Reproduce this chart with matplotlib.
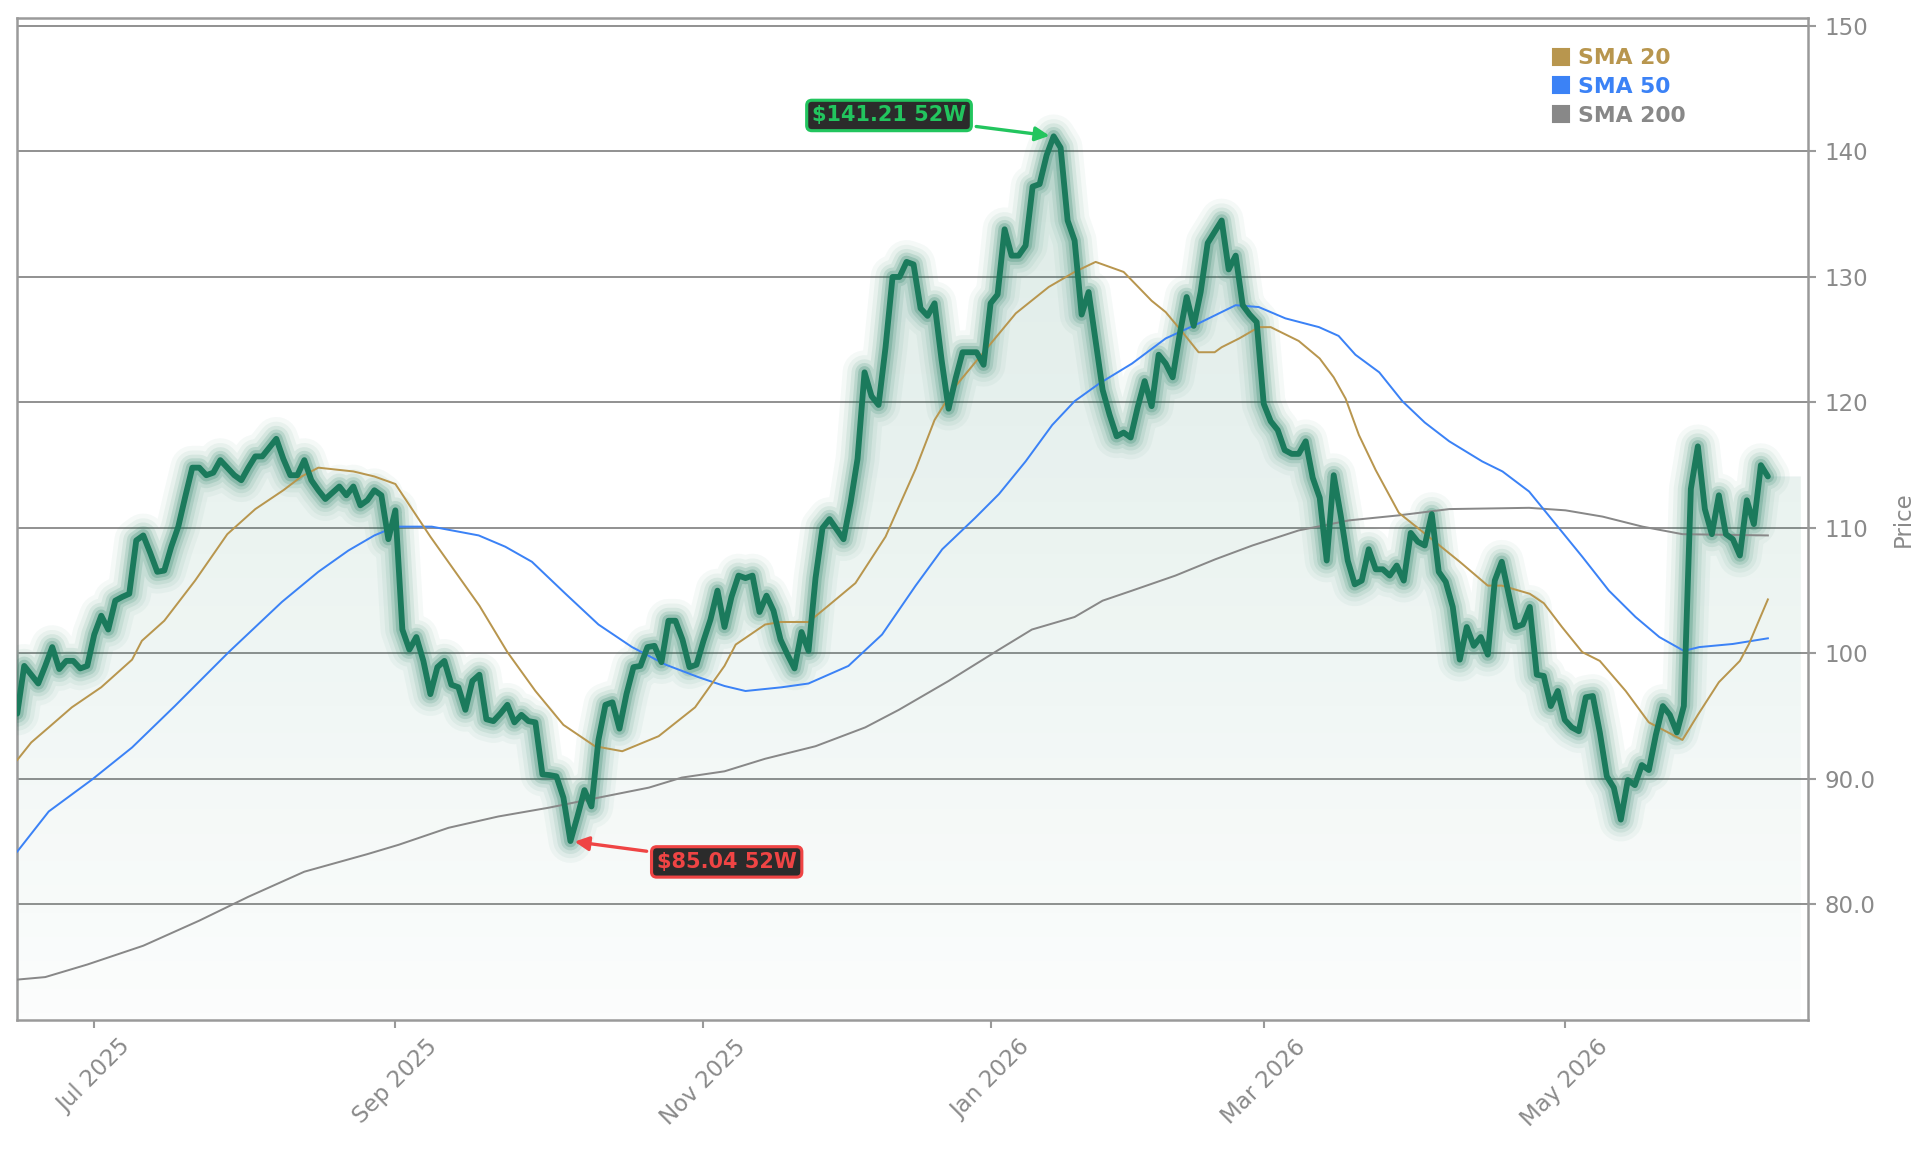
import numpy as np
import matplotlib
matplotlib.use("Agg")
import matplotlib.pyplot as plt
from matplotlib.lines import Line2D
from matplotlib.path import Path
from matplotlib.patches import PathPatch
import matplotlib.colors as mcolors

# ---------------- data (trading-day index 0..250) ----------------
close = [
    95.2, 99.0, 98.3, 97.6, 99.0, 100.5, 98.75, 99.4, 99.4, 98.8,
    99.0, 101.5, 103.0, 101.9, 104.2, 104.5, 104.75, 109.0, 109.4, 108.0,
    106.5, 106.6, 108.5, 110.1, 112.5, 114.8, 114.8, 114.2, 114.4, 115.4,
    114.8, 114.2, 113.8, 114.8, 115.7, 115.7, 116.4, 117.1, 115.5, 114.2,
    114.2, 115.4, 113.8, 113.0, 112.3, 112.8, 113.3, 112.6, 113.3, 111.8,
    112.2, 113.0, 112.6, 109.1, 111.4, 101.9, 100.3, 101.3, 99.4, 96.75,
    98.9, 99.4, 97.5, 97.3, 95.5, 97.8, 98.3, 94.75, 94.6, 95.2,
    95.9, 94.5, 95.1, 94.6, 94.5, 90.35, 90.3, 90.2, 88.5, 85.04,
    87.0, 89.1, 87.8, 93.1, 95.9, 96.1, 94.0, 96.75, 98.9, 99.0,
    100.5, 100.6, 99.3, 102.6, 102.6, 101.1, 98.9, 99.1, 101.0, 102.7,
    105.0, 102.1, 104.5, 106.2, 106.0, 106.2, 103.3, 104.6, 103.4, 101.1,
    99.9, 98.8, 101.7, 100.2, 106.0, 110.0, 110.7, 109.9, 109.1, 112.0,
    115.5, 122.4, 120.5, 119.8, 124.4, 130.0, 130.0, 131.2, 131.0, 127.5,
    126.9, 127.9, 123.4, 119.5, 121.9, 124.0, 124.0, 124.0, 123.0, 127.9,
    128.6, 133.8, 131.7, 131.7, 132.5, 137.2, 137.4, 139.7, 141.21, 140.3,
    134.5, 132.9, 127.0, 128.8, 124.9, 121.0, 119.0, 117.3, 117.6, 117.2,
    119.6, 121.7, 119.7, 123.8, 123.1, 122.0, 125.4, 128.4, 126.1, 128.8,
    132.7, 133.6, 134.5, 130.6, 131.7, 127.75, 127.0, 126.4, 119.9, 118.5,
    117.8, 116.2, 115.9, 115.9, 116.9, 114.0, 112.4, 107.4, 114.2, 111.0,
    107.4, 105.5, 105.8, 108.3, 106.7, 106.7, 106.2, 107.0, 105.8, 109.6,
    108.9, 108.6, 111.1, 106.5, 105.7, 103.7, 99.5, 102.1, 100.6, 101.3,
    99.9, 105.8, 107.3, 104.7, 102.1, 102.3, 103.7, 98.3, 98.2, 95.8,
    97.0, 94.7, 94.1, 93.8, 96.5, 96.6, 93.7, 90.2, 89.3, 86.75,
    89.9, 89.5, 91.1, 90.7, 93.5, 95.8, 95.1, 93.7, 95.8, 113.1,
    116.5, 111.5, 109.5, 112.6, 109.5, 109.1, 107.8, 112.2, 110.3, 115.0, 114.1,
]

sma20_t = [0, 2, 4.5, 7.8, 12, 16.4, 17.8, 21, 25.4, 30, 34, 38, 40.6, 43, 48,
           51, 54, 59, 66, 70, 74, 78, 82.5, 86.4, 91.6, 96.8, 101, 102.6, 106.8, 109,
           113, 115.4, 119.7, 124, 128.3, 131, 134, 138, 142.6, 147.3, 151, 154, 158, 162, 164,
           166.4, 168.7, 171, 172, 174.5, 177.3, 179, 183, 186, 188, 189.7, 191.6, 194, 197.3, 200,
           206, 210, 212, 216, 218, 220.6, 223.5, 226, 229.7, 233, 237.8, 240, 243, 246, 247.3, 250]
sma20_v = [91.5, 92.9, 94.1, 95.7, 97.3, 99.5, 101.0, 102.6, 105.8, 109.5, 111.5, 113.0, 114.1, 114.8, 114.5,
           114.1, 113.5, 109.3, 103.8, 100.1, 97.0, 94.3, 92.6, 92.2, 93.4, 95.7, 99.0, 100.7, 102.3, 102.5,
           102.5, 103.6, 105.6, 109.3, 114.7, 118.6, 121.3, 124.0, 127.1, 129.2, 130.4, 131.2, 130.4, 128.1, 127.2,
           125.6, 124.0, 124.0, 124.4, 125.1, 126.0, 126.0, 124.9, 123.5, 122.0, 120.3, 117.4, 114.6, 111.2, 110.0,
           107.3, 105.4, 105.4, 104.75, 104.0, 102.1, 100.1, 99.4, 97.0, 94.5, 93.1, 95.1, 97.7, 99.4, 100.75, 104.3]

sma50_t = [0, 4.5, 10.7, 16.4, 22.5, 30.2, 37.8, 43, 47.3, 51, 54, 59.2, 65.9, 69.7, 73.5,
           78.3, 83, 87.8, 92.6, 97.3, 101, 104, 109.2, 113, 118.7, 123.5, 128.3, 132.1, 136.8, 140.2,
           144, 147.8, 151, 154.5, 159.2, 164, 168.7, 174, 177.3, 181.1, 185.9, 188.7, 191.1, 194.5, 197.8,
           201, 204.5, 209.2, 212.1, 215.9, 219.7, 223.5, 227.3, 231.1, 234.5, 238, 240.2, 245, 250]
sma50_v = [84.2, 87.4, 89.95, 92.5, 95.8, 100.1, 104.1, 106.5, 108.2, 109.4, 110.1, 110.1, 109.4, 108.5, 107.3,
           104.75, 102.3, 100.5, 99.1, 98.1, 97.4, 97.0, 97.3, 97.6, 99.0, 101.5, 105.4, 108.3, 110.8, 112.7,
           115.3, 118.2, 120.1, 121.5, 123.1, 125.1, 126.3, 127.75, 127.6, 126.7, 126.0, 125.3, 123.8, 122.4, 120.1,
           118.4, 116.9, 115.3, 114.5, 112.9, 110.3, 107.7, 105.0, 102.9, 101.3, 100.2, 100.5, 100.75, 101.2]

sma200_t = [0, 4, 10, 18, 26, 33, 41, 50, 54.5, 61.6, 68.7, 75.9, 83, 90.2, 94.9,
            101, 106.8, 114, 121.1, 125.9, 133, 140.2, 144.9, 151, 155, 159.2, 165.4, 171.1, 176.4, 183,
            190.2, 197.3, 204.5, 215.9, 221.1, 226.4, 232.1, 237.8, 250]
sma200_v = [74.0, 74.2, 75.2, 76.7, 78.7, 80.6, 82.6, 84.0, 84.75, 86.1, 87.0, 87.7, 88.5, 89.3, 90.1,
            90.6, 91.6, 92.6, 94.1, 95.5, 97.8, 100.3, 101.9, 102.9, 104.2, 105.0, 106.2, 107.5, 108.6, 109.8,
            110.6, 111.0, 111.5, 111.6, 111.4, 110.9, 110.1, 109.5, 109.4]

month_tick_idx = [11, 54, 98, 139, 178, 221]
month_labels = ["Jul 2025", "Sep 2025", "Nov 2025", "Jan 2026", "Mar 2026", "May 2026"]
price_ticks = [80, 90, 100, 110, 120, 130, 140, 150]
price_tick_labels = ["80.0", "90.0", "100", "110", "120", "130", "140", "150"]
sma_labels = ["SMA 20", "SMA 50", "SMA 200"]

# ---------------- style ----------------
LINE = "#1b7a5c"
C20, C50, C200 = "#b8964e", "#3b82f6", "#888888"
GREEN, RED = "#22c55e", "#ef4444"
GRAY_TXT = "#8a8a8a"

close = np.asarray(close)
day = np.arange(len(close))
YBOT, YTOP = 70.8, 150.6
XMAX = 255.8
fill_end = 254.7

fig = plt.figure(figsize=(12.86, 7.7), dpi=150)
ax = fig.add_axes([0.00893, 0.1171, 0.9286, 0.8669])

# gradient fill under price
verts = [(0, YBOT)] + list(zip(day, close)) + [(fill_end, close[-1]), (fill_end, YBOT), (0, YBOT)]
clip = PathPatch(Path(verts), facecolor="none", edgecolor="none")
ax.add_patch(clip)
g = np.linspace(0, 1, 256).reshape(-1, 1)
rgba = np.zeros((256, 1, 4))
rgba[..., :3] = mcolors.to_rgb(LINE)
rgba[..., 3] = 0.015 + 0.135 * g
im = ax.imshow(rgba, origin="lower", aspect="auto",
               extent=[0, fill_end, YBOT, close.max()], zorder=2)
im.set_clip_path(clip)

# glow layers + price line
for lw, a in [(21, 0.045), (16.5, 0.06), (12.5, 0.09), (9, 0.14), (6, 0.22)]:
    ax.plot(day, close, color=LINE, lw=lw, alpha=a, solid_capstyle="round",
            solid_joinstyle="round", zorder=3)

ax.plot(sma200_t, sma200_v, color=C200, lw=0.95, zorder=4)
ax.plot(sma50_t, sma50_v, color=C50, lw=0.95, zorder=4)
ax.plot(sma20_t, sma20_v, color=C20, lw=0.95, zorder=4)

ax.plot(day, close, color=LINE, lw=2.8, solid_capstyle="round",
        solid_joinstyle="round", zorder=5)

# axes cosmetics
ax.set_xlim(0, XMAX)
ax.set_ylim(YBOT, YTOP)
ax.set_axisbelow(True)
ax.yaxis.grid(True, color="#8c8c8c", lw=0.9)
ax.xaxis.grid(False)
for s in ax.spines.values():
    s.set_color("#9a9a9a")
    s.set_linewidth(1.2)

ax.yaxis.tick_right()
ax.yaxis.set_label_position("right")
ax.set_yticks(price_ticks)
ax.set_yticklabels(price_tick_labels)
ax.set_xticks(month_tick_idx)
ax.set_xticklabels(month_labels, rotation=45, ha="center")
ax.tick_params(axis="both", colors="#9a9a9a", labelcolor=GRAY_TXT, labelsize=11, length=4, width=1)
ax.set_ylabel("Price", color=GRAY_TXT, fontsize=11, labelpad=8)

# legend
handles = [Line2D([], [], marker="s", ls="none", color=c, markersize=7.5) for c in (C20, C50, C200)]
leg = ax.legend(handles, sma_labels, loc="upper left", bbox_to_anchor=(0.845, 0.99),
                frameon=False, handletextpad=0.25, labelspacing=0.4, handlelength=1.0,
                prop={"weight": "bold", "size": 10.5})
for t, c in zip(leg.get_texts(), (C20, C50, C200)):
    t.set_color(c)

# 52-week annotations
hi_i, lo_i = int(np.argmax(close)), int(np.argmin(close))
ax.annotate(f"${close[hi_i]:.2f} 52W", xy=(hi_i, close[hi_i]), xytext=(-79, 10),
            textcoords="offset points", ha="center", va="center",
            fontsize=10, fontweight="bold", color=GREEN,
            bbox=dict(boxstyle="round,pad=0.25", fc="#2b2b2b", ec=GREEN, lw=1.5),
            arrowprops=dict(arrowstyle="-|>", color=GREEN, lw=1.6, mutation_scale=14),
            zorder=10)
ax.annotate(f"${close[lo_i]:.2f} 52W", xy=(lo_i, close[lo_i]), xytext=(75, -10),
            textcoords="offset points", ha="center", va="center",
            fontsize=10, fontweight="bold", color=RED,
            bbox=dict(boxstyle="round,pad=0.25", fc="#2b2b2b", ec=RED, lw=1.5),
            arrowprops=dict(arrowstyle="-|>", color=RED, lw=1.6, mutation_scale=14),
            zorder=10)

fig.savefig("out.png", dpi=150, facecolor="white")
